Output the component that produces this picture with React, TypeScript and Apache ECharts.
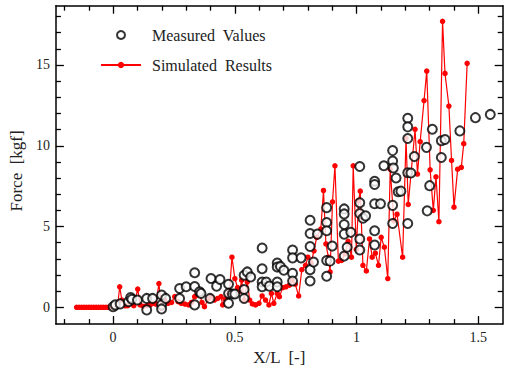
import React, { useEffect, useRef } from 'react';
import * as echarts from 'echarts';

const xMajorTicks = [0, 0.5, 1, 1.5];
const xMinorTicks = [-0.2, -0.1, 0.1, 0.2, 0.3, 0.4, 0.6, 0.7, 0.8, 0.9, 1.1, 1.2, 1.3, 1.4];
const yMajorTicks = [0, 5, 10, 15];
const yMinorTicks = [1, 2, 3, 4, 6, 7, 8, 9, 11, 12, 13, 14, 16, 17, 18];

// Simulated results (X/L, Force)
const simX = [
  -0.15, -0.14, -0.13, -0.12, -0.11, -0.1, -0.09, -0.08, -0.07, -0.06, -0.05, -0.04, -0.03, -0.02, -0.01, 0,
  0.01, 0.02, 0.027, 0.036, 0.05, 0.06, 0.072, 0.085, 0.101, 0.111, 0.125, 0.14, 0.152, 0.165, 0.176, 0.188,
  0.199, 0.212, 0.226, 0.24, 0.253, 0.267, 0.28, 0.295, 0.31, 0.322, 0.335, 0.344, 0.355, 0.365, 0.375, 0.39,
  0.402, 0.416, 0.429, 0.443, 0.45, 0.46, 0.47, 0.478, 0.488, 0.5, 0.511, 0.52, 0.528, 0.538, 0.551, 0.561,
  0.572, 0.585, 0.599, 0.612, 0.626, 0.64, 0.65, 0.66, 0.674, 0.683, 0.697, 0.71, 0.724, 0.735, 0.748, 0.762,
  0.775, 0.79, 0.8, 0.813, 0.825, 0.836, 0.853, 0.864, 0.874, 0.884, 0.891, 0.901, 0.911, 0.925, 0.938, 0.952,
  0.965, 0.979, 0.986, 0.999, 1.008, 1.015, 1.026, 1.04, 1.053, 1.064, 1.077, 1.09, 1.101, 1.114, 1.128, 1.138,
  1.153, 1.166, 1.189, 1.203, 1.212, 1.24, 1.25, 1.261, 1.277, 1.288, 1.302, 1.315, 1.326, 1.338, 1.353, 1.363,
  1.379, 1.39, 1.4, 1.415, 1.43, 1.44, 1.454,
];
const simF = [
  0, 0, 0, 0, 0, 0, 0, 0, 0, 0, 0, 0, 0, 0, 0, 0,
  0.05, 0.3, 1.27, 0.45, 0.09, 0.1, 0.25, 0.1, 1.13, 0.15, 0.05, 0.1, 0.15, 0.25, 0.2, 1.47,
  -0.06, 0.45, 0.25, 0.3, 0.66, 0.35, 0.25, 0.2, 0.15, 0.3, 0.66, 0.76, 0.86, 0.3, 0.04, 0.5,
  0.66, 0.45, 0.55, 0.66, 0.15, 0.5, 0.76, 1.0, 3.1, 1.78, 1.22, 1.0, 1.68, 0.45, 1.57, 0.45,
  0.21, 0.15, 0.25, 0.7, 0.45, 0.15, 0.86, 0.25, 0.86, 0.66, 1.22, 1.27, 1.37, 1.68, 1.43, 0.7,
  2.33, 2.6, 3.1, 2.74, 3.5, 4.33, 4.84, 7.23, 3.92, 3.1, 2.19, 6.53, 8.76, 2.86, 2.9, 3.31,
  4.08, 3.1, 8.76, 3.58, 6.6, 7.19, 2.6, 2.25, 4.23, 3.1, 3.35, 2.6, 4.33, 3.72, 1.78, 8.55,
  5.35, 5.76, 3.1, 10.45, 6.37, 11.02, 8.25, 10.25, 12.8, 14.62, 8.51, 6.0, 8.08, 5.3, 17.7, 14.48,
  12.46, 9.09, 6.2, 8.55, 8.66, 10.13, 15.1,
];

// Measured values (X/L, Force)
const measX = [
  0, 0.009, 0.029, 0.063, 0.072, 0.077, 0.1, 0.138, 0.138, 0.162, 0.199, 0.199, 0.199, 0.216, 0.273, 0.273,
  0.3, 0.335, 0.335, 0.335, 0.355, 0.361, 0.398, 0.402, 0.425, 0.439, 0.474, 0.474, 0.474, 0.49, 0.5, 0.538,
  0.538, 0.538, 0.551, 0.565, 0.612, 0.612, 0.612, 0.612, 0.629, 0.642, 0.674, 0.674, 0.674, 0.674, 0.687, 0.701,
  0.737, 0.737, 0.737, 0.737, 0.772, 0.809, 0.809, 0.809, 0.809, 0.809, 0.823, 0.839, 0.877, 0.877, 0.877, 0.877,
  0.877, 0.891, 0.9, 0.949, 0.949, 0.949, 0.949, 0.949, 0.961, 0.976, 1.013, 1.013, 1.013, 1.013, 1.013, 1.026,
  1.037, 1.074, 1.074, 1.074, 1.074, 1.074, 1.098, 1.112, 1.148, 1.148, 1.151, 1.162, 1.171, 1.148, 1.148, 1.182,
  1.21, 1.21, 1.21, 1.21, 1.223, 1.21, 1.237, 1.287, 1.29, 1.3, 1.311, 1.348, 1.363, 1.348, 1.424, 1.488, 1.549,
];
const measF = [
  0.04, 0.15, 0.21, 0.35, 0.61, 0.5, 0.45, 0.55, -0.16, 0.55, 0.76, 0.15, -0.1, 0.55, 1.16, 0.55,
  1.27, 2.14, 1.29, 0.15, 0.96, 0.86, 0.55, 1.78, 1.31, 1.72, 1.43, 0.86, 0.25, 0.82, 0.82, 1.98,
  1.1, 0.55, 2.19, 1.88, 3.67, 2.39, 1.57, 1.27, 1.57, 1.31, 2.74, 2.49, 1.57, 1.27, 2.53, 2.29,
  3.55, 3.06, 2.1, 1.63, 3.06, 5.39, 4.57, 3.76, 2.33, 1.63, 2.8, 4.53, 6.17, 5.25, 4.74, 2.9,
  1.92, 2.86, 3.79, 6.09, 5.78, 5.12, 4.53, 3.17, 3.72, 4.64, 8.72, 6.47, 5.8, 4.23, 3.55, 5.51,
  5.66, 7.8, 7.6, 6.41, 4.74, 3.86, 6.41, 8.76, 9.7, 9.06, 8.62, 8.0, 7.15, 6.31, 5.19, 7.19,
  11.7, 11.17, 10.45, 8.33, 8.31, 5.19, 9.33, 9.9, 5.97, 7.53, 11.02, 10.31, 10.39, 9.27, 10.92, 11.74, 11.94,
];

const X_MIN = -0.235;
const X_MAX = 1.6;
const Y_MIN = -1.04;
const Y_MAX = 18.67;

const FONT = 'Liberation Serif';

export default function App() {
  const ref = useRef<HTMLDivElement>(null);

  useEffect(() => {
    if (!ref.current) return;
    const chart = echarts.init(ref.current, undefined, { renderer: 'svg' });

    const lineStyle = { color: '#000', width: 1.5 };
    const mkAxis = (range: [number, number], position: string, ticks: number[], len: number, showLine: boolean, labels: boolean, extra: any = {}) => ({
      type: 'value',
      position,
      min: range[0],
      max: range[1],
      axisLine: { show: showLine, onZero: false, lineStyle },
      axisTick: { show: true, inside: true, length: len, customValues: ticks, lineStyle: { color: '#000', width: 1.3 } },
      axisLabel: labels
        ? { show: true, customValues: ticks, margin: 6, color: '#222', fontFamily: FONT, fontSize: 14 }
        : { show: false },
      splitLine: { show: false },
      ...extra,
    });
    const xr: [number, number] = [X_MIN, X_MAX];
    const yr: [number, number] = [Y_MIN, Y_MAX];

    chart.setOption({
      animation: false,
      backgroundColor: '#fff',
      grid: { left: 51.7, right: 6.3, top: 5.7, bottom: 43.3, containLabel: false },
      legend: {
        orient: 'vertical',
        left: 95,
        top: 22,
        itemWidth: 40,
        itemHeight: 8,
        itemGap: 14,
        textStyle: { fontFamily: FONT, fontSize: 16, color: '#222', padding: [0, 0, 0, 6] },
        data: ['Measured  Values', 'Simulated  Results'],
      },
      xAxis: [
        mkAxis(xr, 'bottom', xMajorTicks, 8, true, true, {
          name: 'X/L  [-]',
          nameLocation: 'middle',
          nameGap: 24,
          nameTextStyle: { fontFamily: FONT, fontSize: 17, color: '#222' },
        }),
        mkAxis(xr, 'bottom', xMinorTicks, 5, false, false),
        mkAxis(xr, 'top', xMajorTicks, 8, true, false),
        mkAxis(xr, 'top', xMinorTicks, 5, false, false),
      ],
      yAxis: [
        mkAxis(yr, 'left', yMajorTicks, 8, true, true, {
          name: 'Force  [kgf]',
          nameLocation: 'middle',
          nameGap: 26,
          nameTextStyle: { fontFamily: FONT, fontSize: 17, color: '#222', padding: [0, 12, 0, 0] },
        }),
        mkAxis(yr, 'left', yMinorTicks, 5, false, false),
        mkAxis(yr, 'right', yMajorTicks, 8, true, false),
        mkAxis(yr, 'right', yMinorTicks, 5, false, false),
      ],
      series: [
        {
          name: 'Simulated  Results',
          type: 'line',
          xAxisIndex: 0,
          yAxisIndex: 0,
          data: simX.map((x, i) => [x, simF[i]]),
          symbol: 'circle',
          symbolSize: 5.5,
          showSymbol: true,
          lineStyle: { color: '#ff0000', width: 1.2 },
          itemStyle: { color: '#ff0000' },
          z: 2,
        },
        {
          name: 'Measured  Values',
          type: 'scatter',
          xAxisIndex: 0,
          yAxisIndex: 0,
          data: measX.map((x, i) => [x, measF[i]]),
          symbol: 'emptyCircle',
          symbolSize: 9,
          itemStyle: { color: '#000', borderWidth: 1 },
          z: 3,
        },
      ],
    });

    return () => chart.dispose();
  }, []);

  return <div ref={ref} style={{ position: 'absolute', left: 0, top: 0, width: 509, height: 371 }} />;
}
